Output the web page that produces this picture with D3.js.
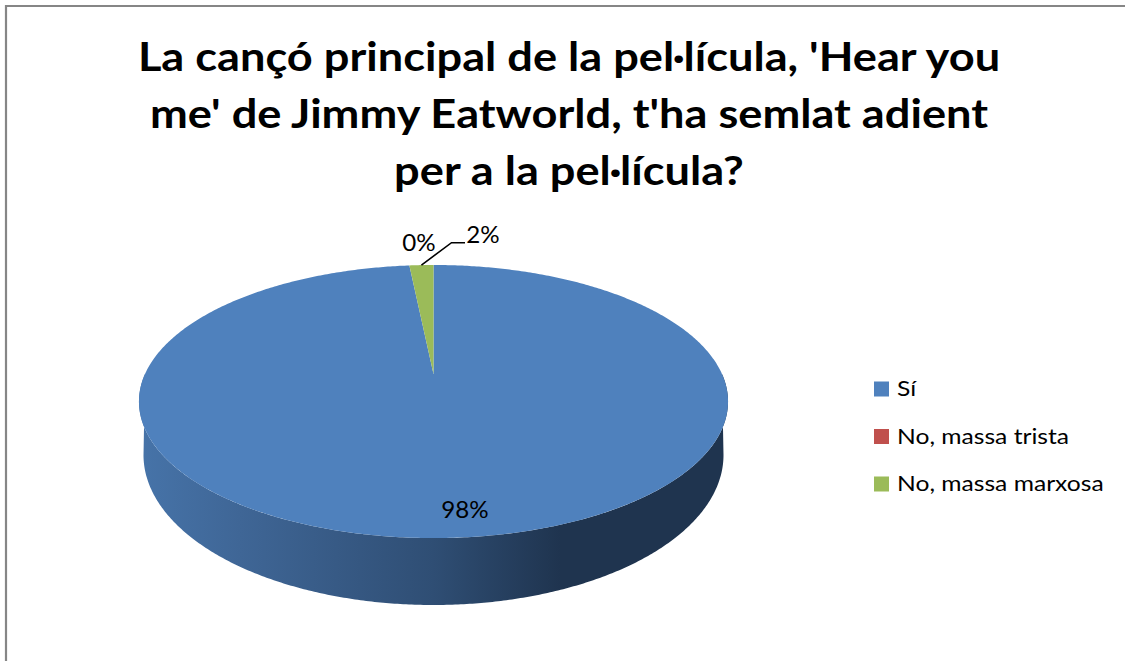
<!DOCTYPE html>
<html>
<head>
<meta charset="utf-8">
<script src="https://cdn.jsdelivr.net/npm/d3@7"></script>
<style>
html, body { margin: 0; padding: 0; background: #fff; overflow: hidden; }
text { font-family: Lato, "Open Sans", sans-serif; fill: #000; }
</style>
</head>
<body>
<div id="chart"></div>
<script>
var titleLines = ["La cançó principal de la pel·lícula, 'Hear you", "me' de Jimmy Eatworld, t'ha semlat adient", "per a la pel·lícula?"];
var categories = ["Sí", "No, massa trista", "No, massa marxosa"];
var shares = [98.4, 0, 1.6];
var colors = ["#4f81bd", "#c0504d", "#9bbb59"];

var width = 1125, height = 661;
var cx = 433.5;

var svg = d3.select("#chart").append("svg")
    .attr("width", width)
    .attr("height", height);

// chart frame, only top and left show up in the window
svg.append("path")
    .attr("d", "M6," + height + "V6H" + width)
    .attr("fill", "none")
    .attr("stroke", "#868686")
    .attr("stroke-width", 2.2);

//the original text is a bit wider than Lato, hence the x scale on each text
svg.selectAll(".title")
    .data(titleLines)
  .enter().append("text")
    .attr("class", "title")
    .attr("transform", function (d, i) { return "translate(569," + (71 + i * 57) + ") scale(1.13,1)"; })
    .attr("text-anchor", "middle")
    .attr("font-size", 40)
    .attr("font-weight", 700)
    .text(function (d) { return d; });

var pie = d3.pie().sort(null).startAngle(0).endAngle(2 * Math.PI);
var slices = pie(shares);

// the top of the pie is seen in perspective, the centre is not half way down
var tilt = 0.2015, radius = 288.5, lift = 131, apexY = 374;

function rim(angle) {
    var u = Math.sin(angle), v = -Math.cos(angle), w = 1 - tilt * v;
    return [cx + radius * u / w, apexY + lift * v / w];
}

function bottomRim(angle) {
    return [cx + 290 * Math.sin(angle), 455 - 150 * Math.cos(angle)];
}

function sweep(a0, a1) {
    var n = Math.max(2, Math.ceil((a1 - a0) / 0.01));
    return d3.range(n + 1).map(function (i) { return a0 + (a1 - a0) * i / n; });
}

var line = d3.line();
var defs = svg.append("defs");

var sideGrad = defs.append("linearGradient")
    .attr("id", "side")
    .attr("gradientUnits", "userSpaceOnUse")
    .attr("x1", 143).attr("x2", 724).attr("y1", 0).attr("y2", 0);
sideGrad.append("stop").attr("offset", 0).attr("stop-color", "#4673a8");
sideGrad.append("stop").attr("offset", 0.167).attr("stop-color", "#3f6696");
sideGrad.append("stop").attr("offset", 0.5).attr("stop-color", "#2f4e74");
sideGrad.append("stop").attr("offset", 0.718).attr("stop-color", "#1f344f");
sideGrad.append("stop").attr("offset", 1).attr("stop-color", "#1f344f");

// wall, front half only
var frontStart = Math.PI / 2, frontEnd = 3 * Math.PI / 2;
slices.forEach(function (s) {
    var a0 = Math.max(s.startAngle, frontStart), a1 = Math.min(s.endAngle, frontEnd);
    if (a1 <= a0) return;
    var pts = sweep(a0, a1).map(bottomRim).concat(sweep(a0, a1).reverse().map(rim));
    svg.append("path")
        .attr("d", line(pts) + "Z")
        .attr("fill", "url(#side)");
});

// top face
var apexPoint = [cx, apexY];
svg.selectAll(".slice")
    .data(slices)
  .enter().append("path")
    .attr("class", "slice")
    .attr("d", function (d) {
        return line([apexPoint].concat(sweep(d.startAngle, d.endAngle).map(rim))) + "Z";
    })
    .attr("fill", function (d, i) { return colors[i]; });

// leader for the small slice
var greenRim = rim((slices[2].startAngle + slices[2].endAngle) / 2);
svg.append("path")
    .attr("d", line([greenRim, [451.5, 242.7], [465, 242.7]]))
    .attr("fill", "none")
    .attr("stroke", "#000")
    .attr("stroke-width", 1.6);

var labelSpots = [[465, 518], [419, 251], [483, 243]];
svg.selectAll(".pct")
    .data(shares)
  .enter().append("text")
    .attr("class", "pct")
    .attr("transform", function (d, i) { return "translate(" + labelSpots[i] + ") scale(1.05,1)"; })
    .attr("text-anchor", "middle")
    .attr("font-size", 23)
    .text(function (d) { return Math.round(d) + "%"; });

// legend
var legendY = d3.scalePoint().domain(categories).range([389, 484]);
var legend = svg.selectAll(".legend")
    .data(categories)
  .enter().append("g")
    .attr("class", "legend")
    .attr("transform", function (d) { return "translate(874," + legendY(d) + ")"; });

legend.append("rect")
    .attr("y", -7.5)
    .attr("width", 15)
    .attr("height", 15)
    .attr("fill", function (d, i) { return colors[i]; });

legend.append("text")
    .attr("transform", "translate(23,7) scale(1.12,1)")
    .attr("font-size", 22)
    .text(function (d) { return d; });
</script>
</body>
</html>
